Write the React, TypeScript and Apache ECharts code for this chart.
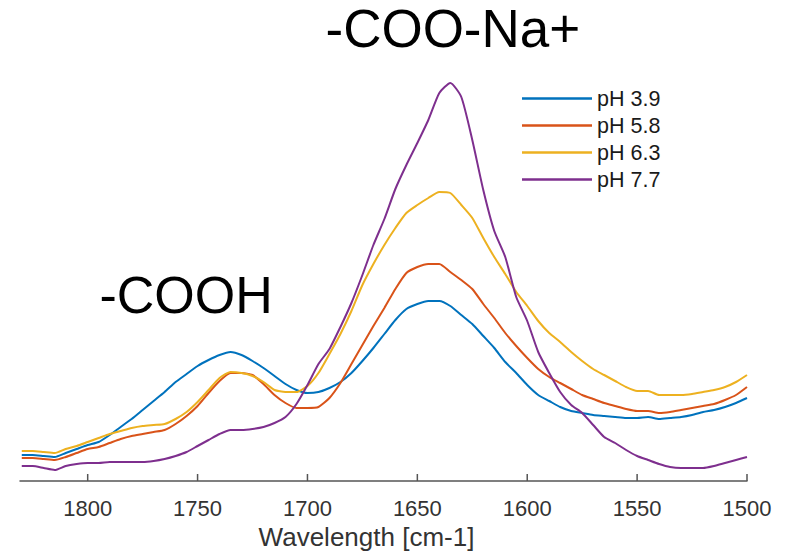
import React, { useEffect, useRef } from "react";
import * as echarts from "echarts";

const wavenumbers = [
  1830, 1825, 1820, 1815, 1810, 1805, 1800, 1795, 1790, 1785, 1780, 1775, 1770, 1765, 1760, 1755, 1750, 1745,
  1740, 1735, 1730, 1725, 1720, 1715, 1710, 1705, 1700, 1695, 1690, 1685, 1680, 1675, 1670, 1665, 1660, 1655,
  1650, 1645, 1640, 1635, 1630, 1625, 1620, 1615, 1610, 1605, 1600, 1595, 1590, 1585, 1580, 1575, 1570, 1565,
  1560, 1555, 1550, 1545, 1540, 1535, 1530, 1525, 1520, 1515, 1510, 1505, 1500,
];

const ph39 = [
  0.26, 0.26, 0.25, 0.24, 0.28, 0.32, 0.36, 0.39, 0.46, 0.54, 0.62, 0.71, 0.8, 0.89, 0.99, 1.07, 1.15, 1.21,
  1.26, 1.29, 1.26, 1.2, 1.13, 1.05, 0.97, 0.91, 0.88, 0.89, 0.93, 0.99, 1.08, 1.2, 1.33, 1.47, 1.61, 1.72,
  1.77, 1.8, 1.8, 1.75, 1.66, 1.57, 1.45, 1.33, 1.19, 1.08, 0.96, 0.86, 0.8, 0.74, 0.7, 0.68, 0.66, 0.65,
  0.64, 0.63, 0.63, 0.64, 0.62, 0.63, 0.64, 0.66, 0.69, 0.71, 0.74, 0.78, 0.83,
];

const ph58 = [
  0.23, 0.23, 0.22, 0.21, 0.24, 0.28, 0.32, 0.34, 0.38, 0.42, 0.45, 0.47, 0.49, 0.51, 0.57, 0.65, 0.75, 0.88,
  1.0, 1.08, 1.08, 1.06, 0.97, 0.86, 0.78, 0.73, 0.73, 0.74, 0.83, 0.98, 1.17, 1.36, 1.55, 1.73, 1.92, 2.08,
  2.14, 2.17, 2.17, 2.09, 2.01, 1.92, 1.77, 1.63, 1.48, 1.35, 1.23, 1.12, 1.04, 0.98, 0.92, 0.86, 0.82, 0.78,
  0.75, 0.72, 0.7, 0.7, 0.68, 0.69, 0.71, 0.73, 0.75, 0.77, 0.81, 0.86, 0.94,
];

const ph63 = [
  0.3, 0.3, 0.29, 0.28, 0.32, 0.35, 0.39, 0.43, 0.47, 0.5, 0.53, 0.55, 0.56, 0.57, 0.62, 0.69, 0.79, 0.91,
  1.03, 1.09, 1.08, 1.05, 0.99, 0.91, 0.89, 0.89, 0.95, 1.08, 1.27, 1.47, 1.7, 1.96, 2.17, 2.36, 2.53, 2.68,
  2.76, 2.83, 2.89, 2.88, 2.76, 2.63, 2.43, 2.24, 2.07, 1.89, 1.75, 1.6, 1.48, 1.39, 1.29, 1.2, 1.12, 1.06,
  1.0, 0.94, 0.9, 0.9, 0.86, 0.86, 0.86, 0.87, 0.89, 0.91, 0.94, 0.99, 1.06,
];

const ph77 = [
  0.15, 0.15, 0.13, 0.11, 0.15, 0.17, 0.18, 0.18, 0.19, 0.19, 0.19, 0.19, 0.2, 0.22, 0.25, 0.29, 0.35, 0.41,
  0.47, 0.51, 0.51, 0.52, 0.54, 0.58, 0.64, 0.77, 0.96, 1.17, 1.32, 1.54, 1.78, 2.06, 2.36, 2.62, 2.92, 3.16,
  3.38, 3.61, 3.88, 3.98, 3.84, 3.41, 2.91, 2.5, 2.24, 1.84, 1.6, 1.29, 1.08, 0.89, 0.76, 0.68, 0.56, 0.44,
  0.38, 0.31, 0.25, 0.21, 0.17, 0.14, 0.13, 0.13, 0.13, 0.15, 0.18, 0.21, 0.24,
];

const seriesNames = ["pH 3.9", "pH 5.8", "pH 6.3", "pH 7.7"];
const seriesColors = ["#0072BD", "#D95319", "#EDB120", "#7E2F8E"];
const tickValues = [1500, 1550, 1600, 1650, 1700, 1750, 1800];
const axisTitle = "Wavelength [cm-1]";
const bandLabels = ["-COO-Na+", "-COOH"];

const FONT = '"Liberation Sans", Arial, Helvetica, sans-serif';
const AXIS_COLOR = "#555555";

export default function App() {
  const ref = useRef<HTMLDivElement>(null);

  useEffect(() => {
    if (!ref.current) return;
    const chart = echarts.init(ref.current, null, { renderer: "svg" });
    const allSeries = [ph39, ph58, ph63, ph77];
    const textGraphics = [
      {
        type: "text",
        x: 325.5,
        y: 28.5,
        style: {
          text: bandLabels[0],
          fontSize: 53,
          fontFamily: FONT,
          fill: "#000000",
          align: "left",
          verticalAlign: "middle",
        },
      },
      {
        type: "text",
        x: 99.5,
        y: 295,
        style: {
          text: bandLabels[1],
          fontSize: 52,
          fontFamily: FONT,
          fill: "#000000",
          align: "left",
          verticalAlign: "middle",
        },
      },
      {
        type: "text",
        x: 366.5,
        y: 537,
        style: {
          text: axisTitle,
          fontSize: 26,
          fontFamily: FONT,
          fill: "#333333",
          align: "center",
          verticalAlign: "middle",
        },
      },
    ];
    chart.setOption({
      animation: false,
      backgroundColor: "#ffffff",
      grid: { left: 20, right: 41, top: 41, bottom: 75, containLabel: false },
      legend: {
        orient: "vertical",
        left: 522,
        top: 85,
        padding: 0,
        itemGap: 0,
        itemWidth: 70,
        itemHeight: 2.5,
        icon: "rect",
        data: seriesNames,
        textStyle: { fontSize: 21.5, color: "#1a1a1a", fontFamily: FONT, lineHeight: 27 },
      },
      xAxis: {
        type: "value",
        inverse: true,
        min: 1500,
        max: 1830.8,
        interval: 50,
        axisLine: { show: true, onZero: false, lineStyle: { color: AXIS_COLOR, width: 1.5 } },
        axisTick: { show: false },
        axisLabel: {
          customValues: tickValues,
          margin: 16,
          fontSize: 22,
          color: "#333333",
          fontFamily: FONT,
          formatter: (v: number) => String(Math.round(v)),
        },
        splitLine: { show: false },
      },
      yAxis: {
        type: "value",
        min: 0,
        max: 4.4,
        show: false,
      },
      series: allSeries.map((vals, i) => ({
        name: seriesNames[i],
        type: "line",
        data: wavenumbers.map((w, j) => [w, vals[j]]),
        showSymbol: false,
        symbol: "none",
        smooth: 0.2,
        lineStyle: { color: seriesColors[i], width: 2 },
        itemStyle: { color: seriesColors[i] },
        clip: false,
      })),
      graphic: textGraphics,
    });

    // tick marks pointing up into the plot, placed through the axis scale
    const yBase = chart.convertToPixel({ yAxisIndex: 0 }, 0) as number;
    const tickGraphics = tickValues.map((v) => {
      const x = chart.convertToPixel({ xAxisIndex: 0 }, v) as number;
      return {
        type: "line",
        shape: { x1: x, y1: yBase, x2: x, y2: yBase - 7 },
        style: { stroke: AXIS_COLOR, lineWidth: 1.5 },
        silent: true,
      };
    });
    chart.setOption({ graphic: [...textGraphics, ...tickGraphics] });

    return () => chart.dispose();
  }, []);

  return (
    <div
      ref={ref}
      style={{ position: "fixed", left: 0, top: 0, width: 788, height: 556, background: "#fff" }}
    />
  );
}
